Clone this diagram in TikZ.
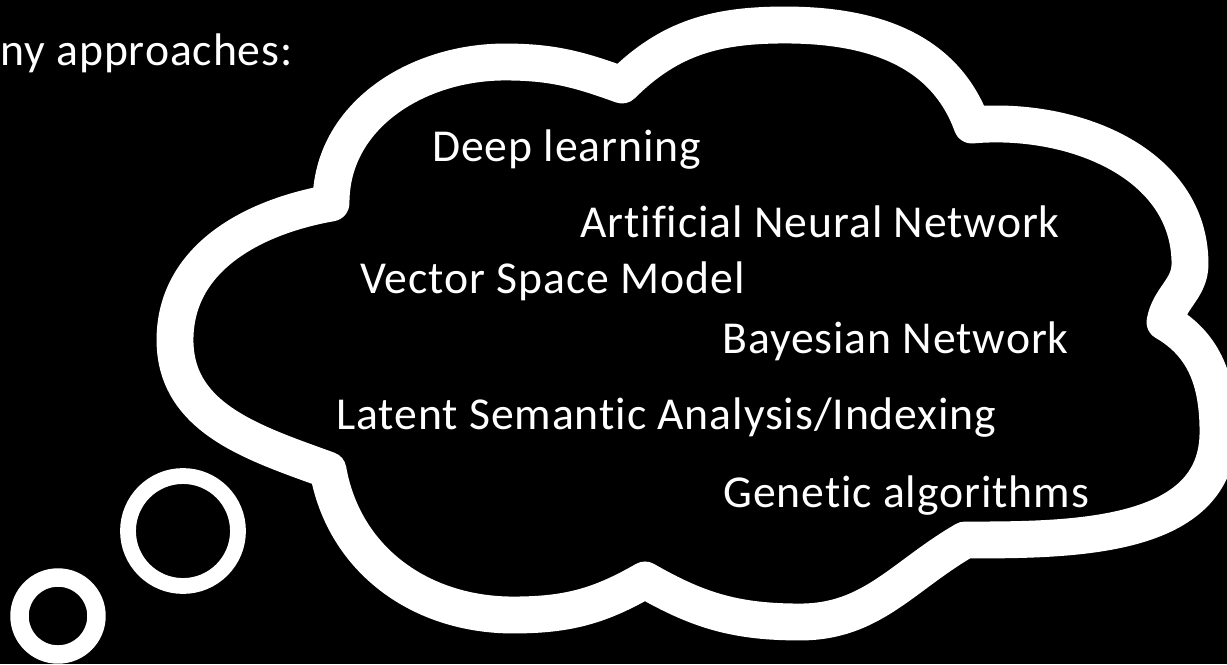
\documentclass[tikz,border=0pt]{standalone}
\usepackage{fontspec}
\setmainfont{Carlito}[Ligatures=NoCommon, LetterSpace=2.0]
\usepackage{xcolor}
\usetikzlibrary{positioning}
\definecolor{chalk}{rgb}{1, 1, 1}
\definecolor{board}{rgb}{0, 0, 0}
\tikzstyle{idea}=[text=chalk, inner sep=0pt, anchor=base west,
font=\fontsize{26}{30}\selectfont]
\tikzstyle{cloud}=[draw=chalk, line width=21pt, line join=round]
\tikzstyle{bubble}=[circle, draw=chalk, inner sep=0pt]

\begin{document}
\begin{tikzpicture}[x=0.02cm, y=0.02cm]
\fill[board] (0,0) rectangle (1227,664);
\useasboundingbox (0,0) rectangle (1227,664);

\node[idea] (intro) at (0,599) {ny approaches:};

\draw[cloud] (331,461) to[out=90,in=180] (505,602)
  to[out=0,in=160] (622,579) to[out=45,in=180] (785,639)
  to[out=0,in=110] (972,539) to[out=5,in=90] (1190,400)
  to[out=-90,in=80] (1165,342) to[out=-30,in=90] (1218,232)
  to[out=-90,in=0] (965,124) to[out=-150,in=0] (800,42)
  to[out=180,in=-30] (645,84) to[out=-150,in=0] (513,49)
  to[out=180,in=-80] (328,194) to[out=160,in=-90] (175,324)
  to[out=90,in=190] cycle;

\node[bubble, line width=9pt, minimum size=2.2cm] (ring1) at (183,133) {};
\node[bubble, line width=10.5pt, minimum size=1.54cm] (ring2) at (58,48) {};

\node[idea] (deep) at (432,503) {Deep learning};
\node[idea] (ann) at (580,427) {Artificial Neural Network};
\node[idea] (vsm) at (360,371) {Vector Space Model};
\node[idea] (bayes) at (722,311) {Bayesian Network};
\node[idea] (lsa) at (336,235) {Latent Semantic Analysis/Indexing};
\node[idea] (gen) at (723,157) {Genetic algorithms};

\end{tikzpicture}
\end{document}
